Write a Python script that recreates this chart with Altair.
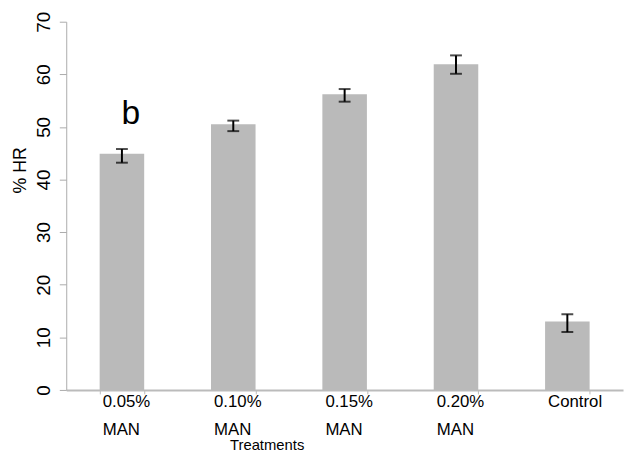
import altair as alt
import pandas as pd

treatments = ["0.05% MAN", "0.10% MAN", "0.15% MAN", "0.20% MAN", "Control"]
hr_mean = [44.9, 50.5, 56.2, 61.9, 13.0]
err_low = [43.2, 49.2, 54.8, 60.1, 11.0]
err_high = [45.8, 51.2, 57.2, 63.6, 14.4]
y_ticks = [0, 10, 20, 30, 40, 50, 60, 70]

annot_text = ["b"]
annot_treatment = ["0.05% MAN"]
annot_value = [50.5]

df = pd.DataFrame({"treatment": treatments, "hr": hr_mean, "lo": err_low, "hi": err_high})
df_annot = pd.DataFrame({"treatment": annot_treatment, "hr": annot_value, "txt": annot_text})

FONT = "Liberation Sans"
AXIS_GRAY = "#ABABAB"

x_enc = alt.X(
    "treatment:N",
    sort=treatments,
    scale=alt.Scale(paddingInner=0.6, paddingOuter=0.3),
    axis=alt.Axis(
        title="Treatments",
        titleFontSize=15,
        titleFontWeight="normal",
        titleColor="black",
        titleX=203,
        titleY=55,
        titleAlign="center",
        titleBaseline="middle",
        labelAngle=0,
        labelAlign="left",
        labelOffset=-20,
        labelBaseline="top",
        labelPadding=0,
        labelFontSize=17,
        labelLineHeight=28,
        labelColor="black",
        labelExpr="split(datum.label, ' ')",
        labelOverlap=False,
        labelLimit=0,
        tickBand="extent",
        tickSize=4,
        tickColor="#BBBBBB",
        domainColor="#BBBBBB",
        domainWidth=2,
        grid=False,
    ),
)

y_scale = alt.Scale(domain=[0, 70], nice=False, zero=True)
y_axis = alt.Axis(
    values=y_ticks,
    title="% HR",
    titleFontSize=18,
    titleFontWeight="normal",
    titleColor="black",
    titleAngle=270,
    titleAlign="center",
    titleBaseline="middle",
    titleX=-46,
    titleY=150,
    labelFontSize=19,
    labelAngle=270,
    labelAlign="center",
    labelBaseline="alphabetic",
    labelPadding=10,
    labelColor="black",
    tickSize=7,
    tickColor=AXIS_GRAY,
    domainColor=AXIS_GRAY,
    grid=False,
)

bars = alt.Chart(df).mark_bar(color="#BABABA").encode(
    x=x_enc,
    y=alt.Y("hr:Q", scale=y_scale, axis=y_axis),
)

rules = alt.Chart(df).mark_rule(color="black", strokeWidth=2).encode(
    x=alt.X("treatment:N", sort=treatments),
    y=alt.Y("lo:Q", title="% HR"),
    y2="hi:Q",
)

caps_lo = alt.Chart(df).mark_tick(color="black", size=12, thickness=2).encode(
    x=alt.X("treatment:N", sort=treatments),
    y=alt.Y("lo:Q", title="% HR"),
)
caps_hi = alt.Chart(df).mark_tick(color="black", size=12, thickness=2).encode(
    x=alt.X("treatment:N", sort=treatments),
    y=alt.Y("hi:Q", title="% HR"),
)

annot = alt.Chart(df_annot).mark_text(
    fontSize=34, dx=9, baseline="alphabetic", font=FONT, color="black", fontWeight="normal"
).encode(
    x=alt.X("treatment:N", sort=treatments),
    y=alt.Y("hr:Q", title="% HR"),
    text="txt:N",
)

chart = (
    alt.layer(bars, rules, caps_lo, caps_hi, annot)
    .properties(
        width=564,
        height=373,
        autosize=alt.AutoSizeParams(type="none"),
        padding={"left": 59, "top": 11, "right": 2, "bottom": 63},
        background="white",
    )
    .configure(font=FONT)
    .configure_view(strokeWidth=0)
)

chart.save("out.html", embed_options={"renderer": "svg", "actions": False})
